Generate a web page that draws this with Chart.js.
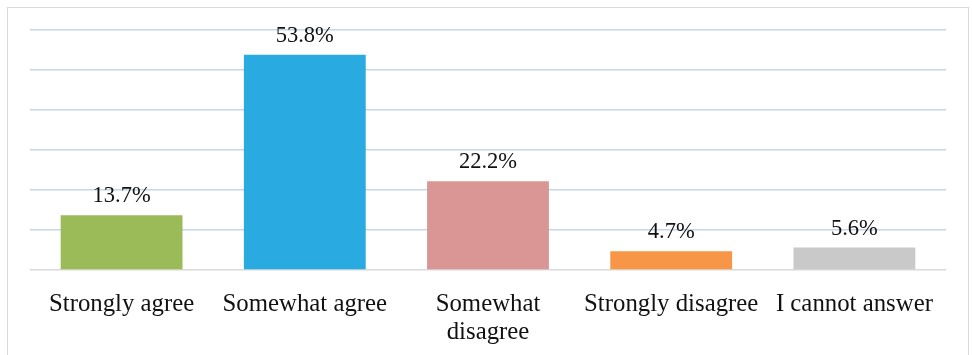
<!DOCTYPE html>
<html>
<head>
<meta charset="utf-8">
<script src="https://cdn.jsdelivr.net/npm/chart.js@4.4.1/dist/chart.umd.min.js"></script>
<style>
  html, body { margin: 0; padding: 0; background: #ffffff; width: 972px; height: 355px; overflow: hidden; }
  #frame { position: absolute; left: 7px; top: 7px; width: 962px; height: 400px; border: 1px solid #d9d9d9; box-sizing: border-box; }
  #wrap { position: absolute; left: 0; top: 0; width: 972px; height: 355px; }
</style>
</head>
<body>
<div id="frame"></div>
<div id="wrap"><canvas id="c" width="972" height="355"></canvas></div>
<script>
const categories = ["Strongly agree", "Somewhat agree", ["Somewhat", "disagree"], "Strongly disagree", "I cannot answer"];
const values = [13.7, 53.8, 22.2, 4.7, 5.6];
const valueLabels = ["13.7%", "53.8%", "22.2%", "4.7%", "5.6%"];
const barColors = ["#9bbb59", "#29abe2", "#d99694", "#f79646", "#c9c9c9"];

const FONT = "'Liberation Serif', 'Times New Roman', serif";

const dataLabelPlugin = {
  id: 'dataLabels',
  afterDatasetsDraw(chart) {
    const ctx = chart.ctx;
    const meta = chart.getDatasetMeta(0);
    ctx.save();
    ctx.font = "22.5px " + FONT;
    ctx.fillStyle = "#111111";
    ctx.textAlign = "center";
    ctx.textBaseline = "alphabetic";
    meta.data.forEach((bar, i) => {
      ctx.fillText(valueLabels[i], bar.x, bar.y - 13);
    });
    ctx.restore();
  }
};

new Chart(document.getElementById('c'), {
  type: 'bar',
  data: {
    labels: categories,
    datasets: [{
      data: values,
      backgroundColor: barColors,
      borderWidth: 0,
      categoryPercentage: 1.0,
      barPercentage: 0.665
    }]
  },
  options: {
    responsive: false,
    animation: false,
    devicePixelRatio: 1,
    layout: { padding: { left: 30, right: 26, top: 30, bottom: 0 } },
    plugins: { legend: { display: false }, tooltip: { enabled: false } },
    scales: {
      x: {
        grid: { display: false, drawTicks: false },
        border: { display: false },
        ticks: {
          color: "#111111",
          font: { family: FONT, size: 24.8, lineHeight: 1.14 },
          padding: 20,
          maxRotation: 0,
          autoSkip: false
        },
        afterFit(scale) { scale.height = 85; }
      },
      y: {
        min: 0,
        max: 60,
        ticks: { display: false, stepSize: 10 },
        border: { display: false },
        grid: {
          drawTicks: false,
          lineWidth: 1.5,
          color: (c) => (c.tick && c.tick.value === 0) ? "#d9d9d9" : "#c6d6ea"
        },
        afterFit(scale) { scale.width = 0; }
      }
    }
  },
  plugins: [dataLabelPlugin]
});
</script>
</body>
</html>
